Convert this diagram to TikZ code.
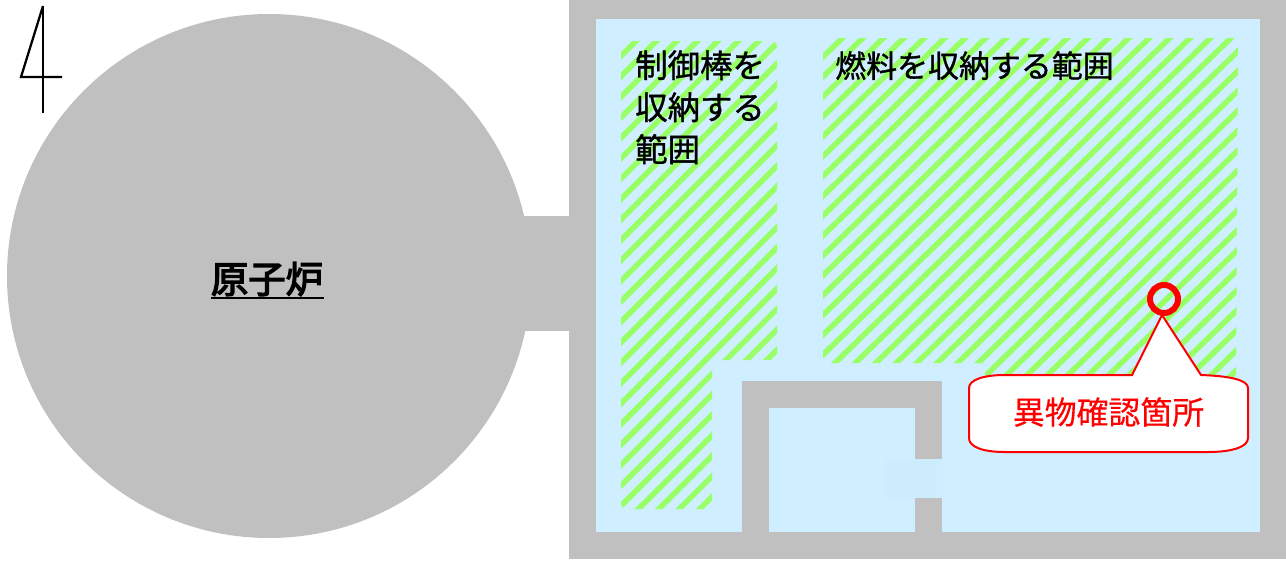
\documentclass[tikz,border=0pt]{standalone}
\usepackage{fontspec}
\setmainfont{Noto Sans CJK JP}
\newfontfamily\cjk[FakeBold=1]{Noto Sans CJK JP}
\newfontfamily\cjklight[FakeBold=0.4]{Noto Sans CJK JP}
\newfontfamily\cjkheavy[FakeBold=3.5]{Noto Sans CJK JP}
\definecolor{wallgray}{HTML}{C0C0C0}
\definecolor{waterblue}{HTML}{CFEEFF}
\definecolor{gapblue}{HTML}{CDECFD}
\definecolor{hatchgreen}{HTML}{99FF66}
\tikzset{
  x=0.75pt,y=-0.75pt,
  wall/.style={fill=wallgray,draw=none},
  water/.style={fill=waterblue,draw=none},
  stripe/.style={hatchgreen,line width=4.2pt},
  areatext/.style={anchor=north west,inner sep=0pt,align=left,text=black},
  calloutline/.style={draw=red,line width=1.5pt,fill=white,line join=miter},
}
\begin{document}
\begin{tikzpicture}[line cap=butt]
\useasboundingbox (0,0) rectangle (1286,561);
% reactor
\fill[wallgray] (269,276) circle [radius=262];
\fill[wall] (520,216) rectangle (570,331);
% pool
\fill[wall] (569,0) rectangle (1286,559);
\fill[water] (596,19) rectangle (1260,532);
% hatched areas
\begin{scope}
\clip[rounded corners=4] (621,41) -- (777,41) -- (777,360) -- (712,360) -- (712,509) -- (621,509) -- cycle;
\foreach \k in {-3,...,30}{
  \draw[stripe] ({677+20.45*\k-530},530) -- ({677+20.45*\k-30},30);
}
\end{scope}
\begin{scope}
\clip[rounded corners=4] (823,38) -- (1238,38) -- (1236,400) -- (985,400) -- (985,363) -- (823,363) -- cycle;
\foreach \k in {-3,...,36}{
  \draw[stripe] ({881.6+20.45*\k-1.03*400},400) -- ({881.6+20.45*\k-1.03*30},30);
}
\end{scope}
% inner chamber
\fill[wall] (742,381) rectangle (942,532);
\fill[water] (769,408) rectangle (915,532);
\fill[gapblue] (885,459) rectangle (943,498);
% figure mark
\draw[line width=1.7pt,line join=miter] (43,6) -- (21,77) -- (62,77);
\draw[line width=1.7pt] (43,6) -- (43,113);
% labels
\node[anchor=center,inner sep=0pt,font=\cjkheavy\fontsize{28}{30}\selectfont] (reactor) at (267,279) {原子炉};
\draw[line width=1.9pt] (211,298) -- (324,298);
\node[areatext,font=\cjk\fontsize{24.3}{31.5}\selectfont] (rodarea) at (635,50) {制御棒を\\収納する\\範囲};
\node[areatext,font=\cjk\fontsize{23.2}{31.5}\selectfont] (fuelarea) at (835,51) {燃料を収納する範囲};
% callout
\draw[calloutline] (1132,375) -- (1162,315) -- (1201,375)
  .. controls (1230,376) and (1248,380) .. (1248,388)
  -- (1248,438)
  .. controls (1248,447) and (1232,452) .. (1208,452)
  -- (1005,452)
  .. controls (983,452) and (969,447) .. (969,438)
  -- (969,388)
  .. controls (969,380) and (983,375) .. (1005,375)
  -- cycle;
\draw[red,line width=4.5pt] (1164,299) circle [radius=14];
\node[anchor=center,inner sep=0pt,text=red,font=\cjklight\fontsize{23.9}{28}\selectfont] (foreign) at (1108.5,412) {異物確認箇所};
\end{tikzpicture}
\end{document}
